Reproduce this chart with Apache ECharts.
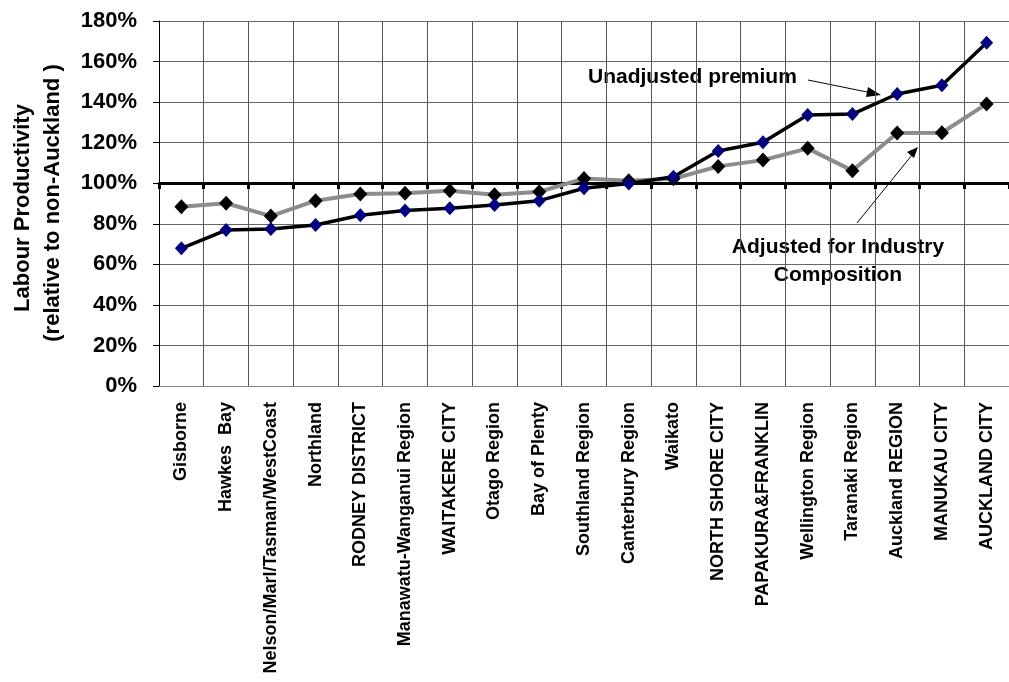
<!DOCTYPE html>
<html><head><meta charset="utf-8">
<script src="https://cdn.jsdelivr.net/npm/echarts@6/dist/echarts.min.js"></script>
<style>html,body{margin:0;padding:0;background:#fff}#c{width:1009px;height:682px}</style>
</head><body><div id="c"></div>
<script>
const categories = ["Gisborne","Hawkes  Bay","Nelson/Marl/Tasman/WestCoast","Northland","RODNEY DISTRICT","Manawatu-Wanganui Region","WAITAKERE CITY","Otago Region","Bay of Plenty","Southland Region","Canterbury Region","Waikato","NORTH SHORE CITY","PAPAKURA&FRANKLIN","Wellington Region","Taranaki Region","Auckland REGION","MANUKAU CITY","AUCKLAND CITY"];
const unadjusted = [67.9,76.9,77.4,79.4,84.2,86.6,87.6,89.3,91.4,97.5,99.9,103.2,115.9,120.2,133.6,134.1,144.0,148.3,169.3];
const adjusted = [88.4,90.1,83.8,91.4,94.7,95.0,96.3,94.3,95.8,102.3,101.2,102.2,108.3,111.4,117.2,106.2,124.8,124.9,139.1];
const yTicks = [0,20,40,60,80,100,120,140,160,180];
const yAxisTitle = ["Labour Productivity","(relative to non-Auckland )"];
const unadjLabel = "Unadjusted premium";
const adjLabel = ["Adjusted for Industry","Composition"];

const F = "Liberation Sans, Arial, sans-serif";
const chart = echarts.init(document.getElementById('c'));
const gridTop = 21, gridBottom = 682-386;
chart.setOption({
  animation:false,
  grid:{left:159,right:-8,top:gridTop,bottom:gridBottom,containLabel:false},
  xAxis:[{
    type:'category',data:categories,boundaryGap:true,position:'bottom',
    axisLine:{lineStyle:{color:'#888',width:1}},
    axisTick:{show:false},
    splitLine:{show:true,interval:0,lineStyle:{color:'#555',width:1}},
    axisLabel:{interval:0,rotate:90,margin:16,fontFamily:F,fontWeight:'bold',fontSize:18,color:'#000'}
  },{
    type:'category',data:categories,boundaryGap:true,position:'bottom',offset:-203,
    axisLine:{lineStyle:{color:'#000',width:3}},
    axisTick:{show:true,interval:0,length:6,lineStyle:{color:'#000',width:3}},
    axisLabel:{show:false},splitLine:{show:false}
  }],
  yAxis:{
    type:'value',min:yTicks[0],max:yTicks[yTicks.length-1],interval:20,
    axisLine:{show:true,lineStyle:{color:'#000',width:1}},
    axisTick:{show:true,length:6,inside:false,lineStyle:{color:'#000'}},
    splitLine:{show:true,lineStyle:{color:'#666',width:1}},
    axisLabel:{margin:22,fontFamily:F,fontWeight:'bold',fontSize:22,color:'#000',formatter:v=>v+'%'}
  },
  series:[{
    name:'Adjusted',type:'line',data:adjusted,
    lineStyle:{color:'#8c8c8c',width:4},
    symbol:'diamond',symbolSize:[14,15],
    itemStyle:{color:'#000',borderWidth:0},z:3
  },{
    name:'Unadjusted',type:'line',data:unadjusted,
    lineStyle:{color:'#000',width:3.5},
    symbol:'diamond',symbolSize:[13,14],
    itemStyle:{color:'#000080',borderWidth:0},z:4
  }],
  graphic:[
    {type:'text',rotation:Math.PI/2,x:23,y:208,
     style:{text:yAxisTitle[0],font:'bold 22px '+F,fill:'#000',align:'center',verticalAlign:'middle'}},
    {type:'text',rotation:Math.PI/2,x:53,y:203,
     style:{text:yAxisTitle[1],font:'bold 22px '+F,fill:'#000',align:'center',verticalAlign:'middle'}},
    {type:'text',x:588,y:77,style:{text:unadjLabel,font:'bold 21px '+F,fill:'#000',align:'left',verticalAlign:'middle'}},
    {type:'text',x:838,y:247,style:{text:adjLabel[0],font:'bold 21px '+F,fill:'#000',align:'center',verticalAlign:'middle'}},
    {type:'text',x:838,y:275,style:{text:adjLabel[1],font:'bold 21px '+F,fill:'#000',align:'center',verticalAlign:'middle'}},
    {type:'line',shape:{x1:808,y1:80,x2:872,y2:93},style:{stroke:'#000',lineWidth:1}},
    {type:'polygon',shape:{points:[[881,95],[868,87],[866,97]]},style:{fill:'#000'}},
    {type:'line',shape:{x1:857,y1:223,x2:912,y2:155},style:{stroke:'#000',lineWidth:1}},
    {type:'polygon',shape:{points:[[918,147],[907,152],[914,158]]},style:{fill:'#000'}}
  ]
});
</script></body></html>
